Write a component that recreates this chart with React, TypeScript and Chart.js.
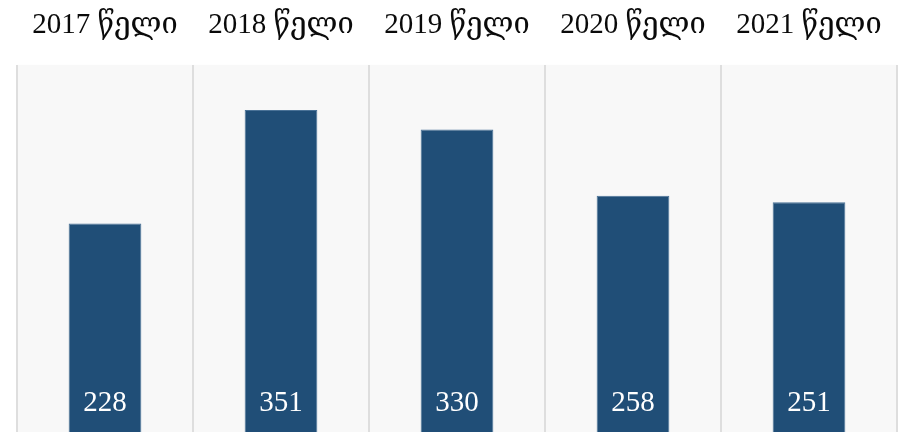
import React, { useEffect, useRef } from "react";
import { Chart, registerables } from "chart.js";

Chart.register(...registerables);

const categories = ["2017 წელი", "2018 წელი", "2019 წელი", "2020 წელი", "2021 წელი"];
const values = [228, 351, 330, 258, 251];
const yMin = 0;
const yMax = 400;

const FONT = "'Liberation Serif', 'DejaVu Serif', serif";

const bgPlugin = {
  id: "plotBg",
  beforeDraw(chart: any) {
    const { ctx, chartArea } = chart;
    ctx.save();
    ctx.fillStyle = "#f8f8f8";
    ctx.fillRect(chartArea.left, chartArea.top, chartArea.right - chartArea.left, chartArea.bottom - chartArea.top);
    ctx.restore();
  },
};

const labelPlugin = {
  id: "barLabels",
  afterDatasetsDraw(chart: any) {
    const { ctx } = chart;
    const meta = chart.getDatasetMeta(0);
    ctx.save();
    ctx.fillStyle = "#ffffff";
    ctx.font = `29px ${FONT}`;
    ctx.textAlign = "center";
    ctx.textBaseline = "middle";
    meta.data.forEach((bar: any, i: number) => {
      ctx.fillText(String(values[i]), bar.x, bar.base - 31);
    });
    ctx.restore();
  },
};

export default function App() {
  const ref = useRef<HTMLCanvasElement | null>(null);
  useEffect(() => {
    if (!ref.current) return;
    const chart = new Chart(ref.current, {
      type: "bar",
      data: {
        labels: categories,
        datasets: [
          {
            data: values,
            backgroundColor: "#204e77",
            borderColor: "#4a7297",
            borderWidth: 1,
            categoryPercentage: 1,
            barPercentage: 0.413,
          },
        ],
      },
      options: {
        responsive: false,
        animation: false,
        layout: { padding: { top: 8, left: 17, right: 2, bottom: 2 } },
        plugins: { legend: { display: false }, tooltip: { enabled: false } },
        scales: {
          x: {
            position: "top",
            border: { display: false },
            grid: {
              display: true,
              color: "#dedede",
              lineWidth: 2,
              drawTicks: true,
              tickLength: 22,
              tickColor: "rgba(0,0,0,0)",
              offset: true,
            },
            ticks: { color: "#0a0a0a", padding: 0, font: { family: FONT, size: 29 } },
          },
          y: {
            display: false,
            min: yMin,
            max: yMax,
          },
        },
      },
      plugins: [bgPlugin, labelPlugin],
    });
    return () => chart.destroy();
  }, []);
  return (
    <canvas
      ref={ref}
      width={899}
      height={436}
      style={{ position: "absolute", left: 0, top: 0, display: "block" }}
    />
  );
}
